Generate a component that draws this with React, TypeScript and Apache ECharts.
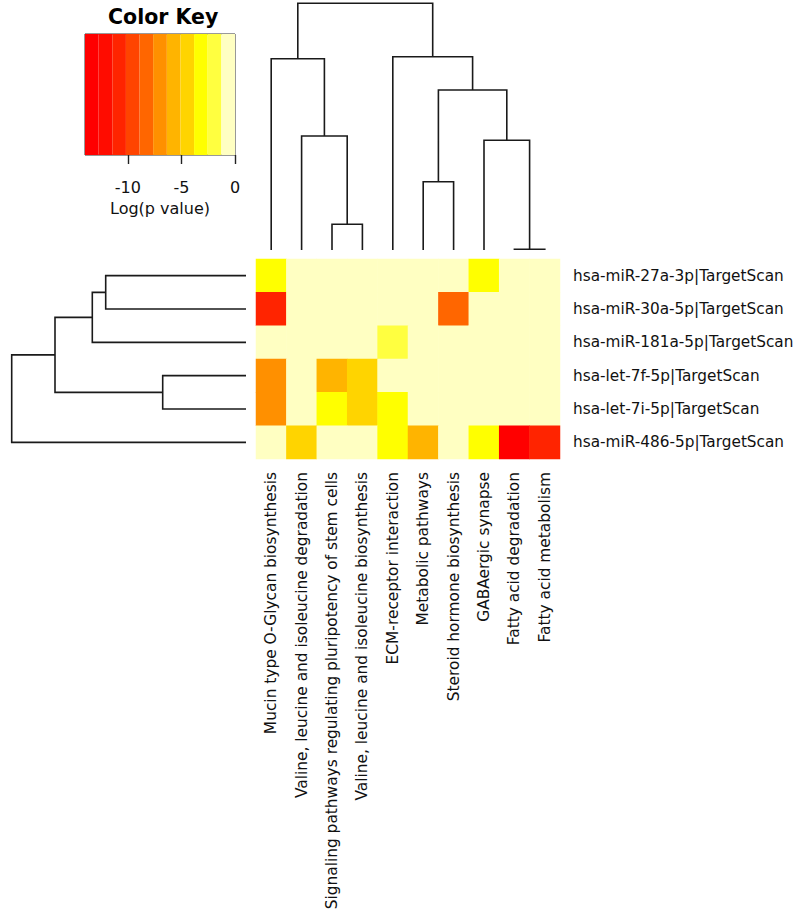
import React, { useEffect, useRef } from "react";
import * as echarts from "echarts";

const columns = [
  "Mucin type O-Glycan biosynthesis",
  "Valine, leucine and isoleucine degradation",
  "Signaling pathways regulating pluripotency of stem cells",
  "Valine, leucine and isoleucine biosynthesis",
  "ECM-receptor interaction",
  "Metabolic pathways",
  "Steroid hormone biosynthesis",
  "GABAergic synapse",
  "Fatty acid degradation",
  "Fatty acid metabolism",
];

const rows = [
  "hsa-miR-27a-3p|TargetScan",
  "hsa-miR-30a-5p|TargetScan",
  "hsa-miR-181a-5p|TargetScan",
  "hsa-let-7f-5p|TargetScan",
  "hsa-let-7i-5p|TargetScan",
  "hsa-miR-486-5p|TargetScan",
];

// log(p value) per row (miRNA) and column (pathway)
const miR27a = [-3.2, 0, 0, 0, 0, 0, 0, -3.0, 0, 0];
const miR30a = [-10.8, 0, 0, 0, 0, 0, -8.2, 0, 0, 0];
const miR181a = [0, 0, 0, 0, -2.0, 0, 0, 0, 0, 0];
const let7f = [-6.8, 0, -5.6, -4.5, 0, 0, 0, 0, 0, 0];
const let7i = [-6.8, 0, -3.2, -4.5, -3.2, 0, 0, 0, 0, 0];
const miR486 = [0, -4.5, 0, 0, -3.2, -5.6, 0, -3.2, -13.5, -10.8];
const rowValues = [miR27a, miR30a, miR181a, let7f, let7i, miR486];

// color key
const keyBreaks = [-14, -12.73, -11.45, -10.18, -8.91, -7.64, -6.36, -5.09, -3.82, -2.55, -1.27, 0];
const keyColors = [
  "#FF0000", "#FF0C00", "#FF2400", "#FF4400", "#FF6600", "#FF9000",
  "#FFB400", "#FFD400", "#FFFF00", "#FFFF40", "#FFFFC2",
];
const keyTicks = [-10, -5, 0];

// dendrograms: [child1 position, child2 position, child1 height, child2 height, merge height]
const colMerges = [
  [2.5, 3.5, 0, 0, 2.57],
  [1.5, 3.0, 0, 2.57, 11.4],
  [0.5, 2.25, 0, 11.4, 19.13],
  [8.5, 9.5, 0, 0, 0.07],
  [7.5, 9.0, 0, 0.07, 10.97],
  [5.5, 6.5, 0, 0, 6.83],
  [6.0, 8.25, 6.83, 10.97, 16.0],
  [4.5, 7.125, 0, 16.0, 19.33],
  [1.375, 5.8125, 19.13, 19.33, 24.67],
];
const rowMerges = [
  [0.5, 1.5, 0, 0, 14.03],
  [1.0, 2.5, 14.03, 0, 15.37],
  [3.5, 4.5, 0, 0, 8.33],
  [1.75, 4.0, 15.37, 8.33, 19.1],
  [2.875, 5.5, 19.1, 0, 23.43],
];

const FONT = "DejaVu Sans";

function dendroRender(orient: "top" | "left") {
  return (params: any, api: any) => {
    const p1 = api.value(0);
    const p2 = api.value(1);
    const h1 = api.value(2);
    const h2 = api.value(3);
    const h = api.value(4);
    const pt = (pos: number, ht: number) =>
      orient === "top" ? api.coord([pos, ht]) : api.coord([ht, pos]);
    return {
      type: "polyline",
      shape: { points: [pt(p1, h1), pt(p1, h), pt(p2, h), pt(p2, h2)] },
      style: { stroke: "#1a1a1a", lineWidth: 1.6, fill: "none" },
    };
  };
}

export default function App() {
  const ref = useRef<HTMLDivElement>(null);
  useEffect(() => {
    if (!ref.current) return;
    const chart = echarts.init(ref.current, null, { renderer: "svg" });
    const heatData: number[][] = [];
    rowValues.forEach((vals, r) => vals.forEach((v, c) => heatData.push([c, r, v])));
    const keyData = keyColors.map((_, i) => [keyBreaks[i], keyBreaks[i + 1], i]);
    const pieces = keyColors.map((color, i) =>
      i === keyColors.length - 1
        ? { gte: keyBreaks[i], lte: keyBreaks[i + 1], color }
        : { gte: keyBreaks[i], lt: keyBreaks[i + 1], color }
    );
    const hidden = { show: false };
    chart.setOption({
      animation: false,
      title: {
        text: "Color Key",
        left: 103,
        top: 1,
        textStyle: { fontFamily: FONT, fontSize: 20.5, fontWeight: "bold", color: "#000" },
      },
      grid: [
        { left: 256, top: 259, width: 304, height: 200 },
        { left: 256, top: 3, width: 304, height: 247 },
        { left: 11, top: 259, width: 235, height: 200 },
        {
          left: 85, top: 34, width: 150, height: 121,
          show: true, borderColor: "#333", borderWidth: 1, backgroundColor: "transparent",
        },
      ],
      xAxis: [
        {
          gridIndex: 0,
          type: "category",
          data: columns,
          axisLine: hidden,
          axisTick: hidden,
          splitLine: hidden,
          axisLabel: {
            rotate: 90, interval: 0, margin: 13, fontSize: 15.4, fontFamily: FONT, color: "#111",
          },
        },
        { gridIndex: 1, type: "value", min: 0, max: 10, show: false },
        { gridIndex: 2, type: "value", min: 0, max: 23.5, inverse: true, show: false },
        {
          gridIndex: 3,
          type: "value",
          min: -14,
          max: 0,
          name: "Log(p value)",
          nameLocation: "middle",
          nameGap: 45,
          nameTextStyle: { fontFamily: FONT, fontSize: 16, color: "#111" },
          axisLine: hidden,
          splitLine: hidden,
          axisTick: {
            show: true,
            customValues: keyTicks,
            length: 9,
            lineStyle: { color: "#222", width: 1.4 },
          },
          axisLabel: {
            customValues: keyTicks,
            margin: 24,
            fontSize: 16,
            fontFamily: FONT,
            color: "#111",
          },
        },
      ],
      yAxis: [
        {
          gridIndex: 0,
          type: "category",
          data: rows,
          inverse: true,
          position: "right",
          axisLine: hidden,
          axisTick: hidden,
          splitLine: hidden,
          axisLabel: { margin: 13, fontSize: 15.3, fontFamily: FONT, color: "#111" },
        },
        { gridIndex: 1, type: "value", min: 0, max: 24.7, show: false },
        { gridIndex: 2, type: "value", min: 0, max: 6, inverse: true, show: false },
        { gridIndex: 3, type: "value", min: 0, max: 1, show: false },
      ],
      visualMap: {
        type: "piecewise",
        show: false,
        seriesIndex: 0,
        dimension: 2,
        pieces,
      },
      series: [
        {
          type: "heatmap",
          xAxisIndex: 0,
          yAxisIndex: 0,
          data: heatData,
          itemStyle: { borderWidth: 0 },
          emphasis: { disabled: true },
        },
        {
          type: "custom",
          xAxisIndex: 1,
          yAxisIndex: 1,
          data: colMerges,
          clip: false,
          renderItem: dendroRender("top"),
          silent: true,
        },
        {
          type: "custom",
          xAxisIndex: 2,
          yAxisIndex: 2,
          data: rowMerges,
          clip: false,
          renderItem: dendroRender("left"),
          silent: true,
        },
        {
          type: "custom",
          xAxisIndex: 3,
          yAxisIndex: 3,
          data: keyData,
          silent: true,
          renderItem: (params: any, api: any) => {
            const a = api.coord([api.value(0), 1]);
            const b = api.coord([api.value(1), 0]);
            return {
              type: "rect",
              shape: { x: a[0], y: a[1], width: b[0] - a[0], height: b[1] - a[1] },
              style: { fill: keyColors[api.value(2)] },
            };
          },
        },
      ],
    });
    return () => chart.dispose();
  }, []);
  return (
    <div
      ref={ref}
      style={{ position: "absolute", left: 0, top: 0, width: 800, height: 913, background: "#fff" }}
    />
  );
}
